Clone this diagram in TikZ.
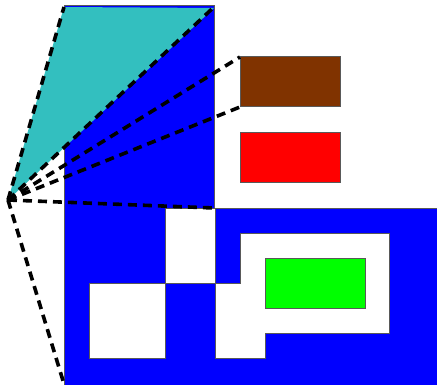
\documentclass[tikz,border=0pt]{standalone}
\usepackage{xcolor}
\usepackage{tikz}
\usetikzlibrary{calc}

\definecolor{wallblue}{RGB}{0,0,255}
\definecolor{viewcyan}{RGB}{51,191,191}
\definecolor{boxbrown}{RGB}{128,51,0}
\definecolor{boxgreen}{RGB}{0,255,0}
\tikzset{
  outline/.style={draw=black!65, line width=0.5pt},
  sightline/.style={line width=1.8pt, dash pattern=on 4.5pt off 3pt},
}

\begin{document}
\begin{tikzpicture}[x=0.5pt, y=-0.5pt]
        \useasboundingbox (0,0) rectangle (437,384);
        \coordinate (eye) at (8,200); \coordinate (tl) at (64,7); \coordinate (tr) at (214,7); \coordinate (brownA) at (240,57); \coordinate (brownB) at (240,107); \coordinate (corner) at (214,208); \coordinate (bl) at (64,384);

        % walls
        \begin{scope}
          \clip (0,0) rectangle (437,384);
          \filldraw [fill=wallblue, outline] (64,6) -- (214,6) -- (214,208) -- (445,208) -- (445,392) -- (64,392) -- cycle;
        \end{scope}
        \filldraw [fill=white, outline] (165,208) rectangle (215,283);
        \filldraw [fill=white, outline] (89,283) rectangle (165,358);
        \filldraw [fill=white, outline] (240,233) -- (389,233) -- (389,333) -- (265,333) -- (265,358) -- (215,358) -- (215,283) -- (240,283) -- cycle;

        % boxes
        \filldraw [fill=boxbrown, outline] (240,57) rectangle (340,107);
        \filldraw [fill=red, outline] (240,133) rectangle (340,183);
        \filldraw [fill=boxgreen, outline] (265,258) rectangle (365,308);

        % view cone
        \fill [viewcyan] (eye) -- (tl) -- ($(tr)+(0,1)$) -- cycle;
        \foreach \c in {tl, tr, brownA, brownB, corner, bl} \draw [sightline] (eye) -- (\c);
    \end{tikzpicture}
\end{document}
